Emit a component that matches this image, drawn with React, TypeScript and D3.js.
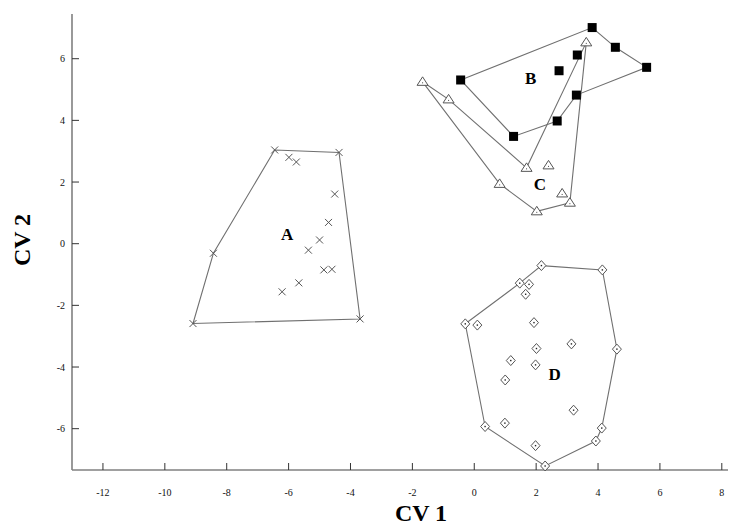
import React from "react";
import * as d3 from "d3";

// Canonical variate scores per group (CV 1, CV 2)
const groupA: [number, number][] = [
  [-6.45, 3.04], [-4.37, 2.96], [-5.99, 2.8], [-5.75, 2.65], [-4.51, 1.61],
  [-4.71, 0.69], [-5.0, 0.12], [-5.36, -0.21], [-4.86, -0.85], [-4.6, -0.83],
  [-5.67, -1.27], [-6.21, -1.56], [-8.43, -0.31], [-9.09, -2.59], [-3.69, -2.44],
];
const hullA: [number, number][] = [
  [-6.45, 3.04], [-4.37, 2.96], [-3.69, -2.44], [-9.09, -2.59], [-8.43, -0.31],
];

const groupB: [number, number][] = [
  [3.81, 7.01], [4.56, 6.37], [5.57, 5.72], [3.33, 6.12], [2.74, 5.61],
  [-0.44, 5.31], [3.3, 4.82], [2.68, 3.98], [1.27, 3.48],
];
const hullB: [number, number][] = [
  [-0.44, 5.31], [3.81, 7.01], [4.56, 6.37], [5.57, 5.72], [3.3, 4.82], [2.68, 3.98], [1.27, 3.48],
];

const groupC: [number, number][] = [
  [-1.67, 5.25], [-0.83, 4.68], [3.62, 6.53], [1.69, 2.46], [2.4, 2.54],
  [0.82, 1.94], [2.84, 1.63], [3.09, 1.33], [2.02, 1.05],
];
const hullC: [number, number][] = [
  [-1.67, 5.25], [-0.83, 4.68], [1.69, 2.46], [3.62, 6.53], [3.09, 1.33], [2.02, 1.05], [0.82, 1.94],
];

const groupD: [number, number][] = [
  [2.17, -0.71], [4.14, -0.85], [1.47, -1.28], [1.77, -1.32], [1.66, -1.64],
  [-0.29, -2.6], [0.1, -2.64], [1.93, -2.56], [3.14, -3.25], [2.01, -3.4],
  [1.18, -3.79], [1.98, -3.93], [4.61, -3.42], [1.0, -4.42], [3.21, -5.4],
  [0.35, -5.93], [0.99, -5.82], [4.12, -5.98], [3.93, -6.4], [1.98, -6.55], [2.29, -7.21],
];
const hullD: [number, number][] = [
  [2.17, -0.71], [4.14, -0.85], [4.61, -3.42], [4.12, -5.98], [3.93, -6.4],
  [2.29, -7.21], [0.35, -5.93], [-0.29, -2.6], [1.47, -1.28],
];

const groupLabels: { name: string; x: number; y: number }[] = [
  { name: "A", x: -6.05, y: 0.31 },
  { name: "B", x: 1.82, y: 5.36 },
  { name: "C", x: 2.12, y: 1.94 },
  { name: "D", x: 2.6, y: -4.22 },
];

const xTicks = [-12, -10, -8, -6, -4, -2, 0, 2, 4, 6, 8];
const yTicks = [-6, -4, -2, 0, 2, 4, 6];

const W = 729;
const H = 528;

export default function App() {
  const x = d3.scaleLinear().domain([-13, 8.2]).range([72, 728]);
  const y = d3.scaleLinear().domain([-7.34, 7.45]).range([470, 14]);
  const line = d3
    .line<[number, number]>()
    .x((d) => x(d[0]))
    .y((d) => y(d[1]))
    .curve(d3.curveLinearClosed);

  const serif = "'Liberation Serif', 'Times New Roman', serif";
  const hullStroke = "#707070";

  return (
    <svg
      width={W}
      height={H}
      style={{ position: "absolute", left: 0, top: 0, background: "#fff" }}
    >
      {/* axes */}
      <line x1={x(-13)} x2={x(8.2)} y1={y(-7.34)} y2={y(-7.34)} stroke="#808080" strokeWidth={1.6} />
      <line x1={x(-13)} x2={x(-13)} y1={y(-7.34)} y2={y(7.45)} stroke="#808080" strokeWidth={1.6} />
      {xTicks.map((t) => (
        <g key={`xt${t}`}>
          <line x1={x(t)} x2={x(t)} y1={y(-7.34)} y2={y(-7.34) - 7} stroke="#333" strokeWidth={1} />
          <text x={x(t)} y={496} fontFamily={serif} fontSize={10} textAnchor="middle" fill="#111">
            {t}
          </text>
        </g>
      ))}
      {yTicks.map((t) => (
        <g key={`yt${t}`}>
          <line x1={x(-13)} x2={x(-13) + 7} y1={y(t)} y2={y(t)} stroke="#333" strokeWidth={1} />
          <text x={65} y={y(t) + 3.5} fontFamily={serif} fontSize={10} textAnchor="end" fill="#111">
            {t}
          </text>
        </g>
      ))}

      {/* axis titles */}
      <text x={421} y={521} fontFamily={serif} fontSize={24} fontWeight="bold" textAnchor="middle" fill="#000">
        CV 1
      </text>
      <text
        transform={`translate(30,240) rotate(-90)`}
        fontFamily={serif}
        fontSize={24}
        fontWeight="bold"
        textAnchor="middle"
        fill="#000"
      >
        CV 2
      </text>

      {/* group outlines */}
      {[hullA, hullB, hullC, hullD].map((h, i) => (
        <path key={`h${i}`} d={line(h) ?? ""} fill="none" stroke={hullStroke} strokeWidth={1.1} />
      ))}

      {/* group A: crosses */}
      {groupA.map((d, i) => {
        const cx = x(d[0]);
        const cy = y(d[1]);
        const s = 3.5;
        return (
          <path
            key={`a${i}`}
            d={`M${cx - s},${cy - s}L${cx + s},${cy + s}M${cx - s},${cy + s}L${cx + s},${cy - s}`}
            stroke="#555"
            strokeWidth={1}
          />
        );
      })}

      {/* group B: filled squares */}
      {groupB.map((d, i) => (
        <rect key={`b${i}`} x={x(d[0]) - 4.5} y={y(d[1]) - 4.5} width={9} height={9} fill="#000" />
      ))}

      {/* group C: open triangles */}
      {groupC.map((d, i) => {
        const cx = x(d[0]);
        const cy = y(d[1]);
        return (
          <g key={`c${i}`}>
            <path
              d={`M${cx},${cy - 5}L${cx + 5.5},${cy + 3.5}L${cx - 5.5},${cy + 3.5}Z`}
              fill="#fff"
              stroke="#555"
              strokeWidth={1}
            />
            <rect x={cx - 0.5} y={cy + 0.5} width={1} height={1} fill="#444" />
          </g>
        );
      })}

      {/* group D: open diamonds */}
      {groupD.map((d, i) => {
        const cx = x(d[0]);
        const cy = y(d[1]);
        return (
          <g key={`d${i}`}>
            <path
              d={`M${cx},${cy - 5}L${cx + 4.5},${cy}L${cx},${cy + 5}L${cx - 4.5},${cy}Z`}
              fill="#fff"
              stroke="#555"
              strokeWidth={1}
            />
            <rect x={cx - 0.7} y={cy - 0.7} width={1.4} height={1.4} fill="#222" />
          </g>
        );
      })}

      {/* group labels */}
      {groupLabels.map((g) => (
        <text
          key={g.name}
          x={x(g.x)}
          y={y(g.y) + 6}
          fontFamily={serif}
          fontSize={17}
          fontWeight="bold"
          textAnchor="middle"
          fill="#000"
        >
          {g.name}
        </text>
      ))}
    </svg>
  );
}
